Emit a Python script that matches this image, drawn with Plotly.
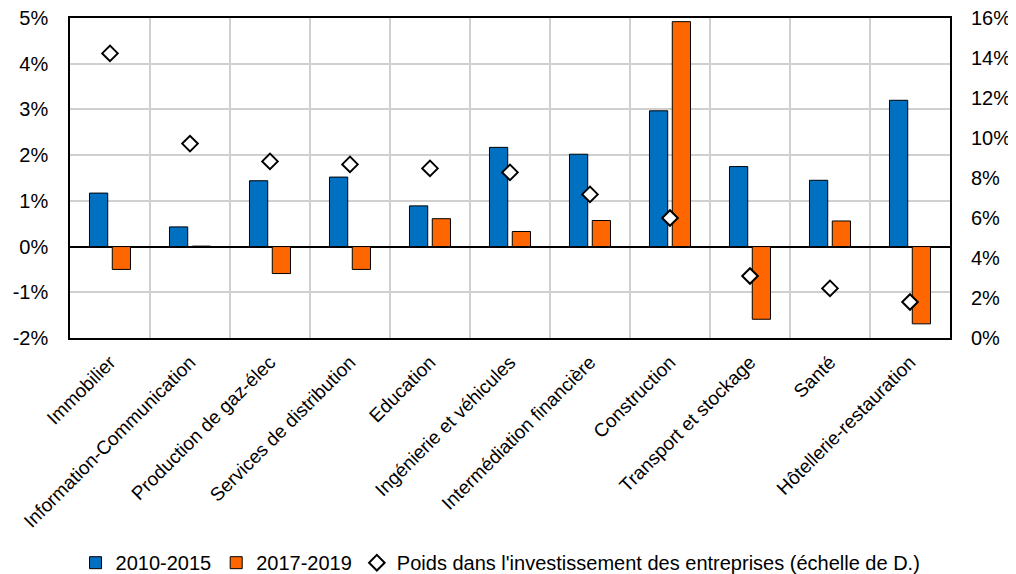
import plotly.graph_objects as go

categories = ["Immobilier", "Information-Communication", "Production de gaz-élec",
              "Services de distribution", "Education", "Ingénierie et véhicules",
              "Intermédiation financière", "Construction", "Transport et stockage",
              "Santé", "Hôtellerie-restauration"]
s2010_2015 = [1.17, 0.43, 1.44, 1.52, 0.89, 2.17, 2.02, 2.97, 1.75, 1.45, 3.20]
s2017_2019 = [-0.50, 0.01, -0.59, -0.50, 0.61, 0.33, 0.57, 4.92, -1.59, 0.56, -1.69]
poids = [14.23, 9.72, 8.83, 8.68, 8.48, 8.28, 7.18, 6.0, 3.1, 2.48, 1.8]

left_ticks = [-2, -1, 0, 1, 2, 3, 4, 5]
left_labels = ["-2%", "-1%", "0%", "1%", "2%", "3%", "4%", "5%"]
right_ticks = [0, 2, 4, 6, 8, 10, 12, 14, 16]
right_labels = ["0%", "2%", "4%", "6%", "8%", "10%", "12%", "14%", "16%"]

names = ["2010-2015", "2017-2019", "Poids dans l'investissement des entreprises (échelle de D.)"]

fig = go.Figure()
fig.add_trace(go.Bar(x=categories, y=s2010_2015, name=names[0],
                     marker=dict(color="#0070C0", line=dict(color="black", width=1))))
fig.add_trace(go.Bar(x=categories, y=s2017_2019, name=names[1],
                     marker=dict(color="#FF6600", line=dict(color="black", width=1))))
fig.add_trace(go.Scatter(x=categories, y=poids, name=names[2], mode="markers", yaxis="y2",
                         marker=dict(symbol="diamond", size=12, color="white",
                                     line=dict(color="black", width=2))))

# page body has an 8px margin: figure sized to fit the window
fig.update_layout(
    width=1008, height=566,
    margin=dict(l=62, r=66, t=10, b=236, autoexpand=False),
    paper_bgcolor="white", plot_bgcolor="white",
    font=dict(family="Liberation Sans, Arial, sans-serif", color="black"),
    barmode="group", bargap=0.43, bargroupgap=0.2,
    showlegend=True,
    legend=dict(orientation="h", xref="container", yref="container",
                x=0.067, xanchor="left", y=0.02, yanchor="middle",
                font=dict(size=20), traceorder="normal", itemwidth=30),
    xaxis=dict(type="category", range=[-0.5, 10.5], tickson="boundaries", showgrid=True,
               gridcolor="#D0D0D0",
               gridwidth=1.5, tickangle=-45, tickfont=dict(size=19), ticks="",
               ticklabelstandoff=4, automargin=False, ticklabeloverflow="allow",
               showline=True, linecolor="black", linewidth=1.5, mirror=True),
    yaxis=dict(range=[-2, 5], tickmode="array", tickvals=left_ticks, ticktext=left_labels,
               showgrid=True, gridcolor="#D0D0D0",
               gridwidth=1.5, zeroline=True, zerolinecolor="black", zerolinewidth=1.5,
               tickfont=dict(size=20), showline=True, linecolor="black", linewidth=1.5,
               mirror=True, ticks="", ticklabelstandoff=16, automargin=False,
               ticklabeloverflow="allow"),
    yaxis2=dict(range=[0, 16], tickmode="array", tickvals=right_ticks, ticktext=right_labels,
                overlaying="y", side="right", ticklabelstandoff=20, automargin=False,
                ticklabeloverflow="allow",
                showgrid=False, zeroline=False, tickfont=dict(size=20), ticks=""),
)

fig.write_html("out.html")
